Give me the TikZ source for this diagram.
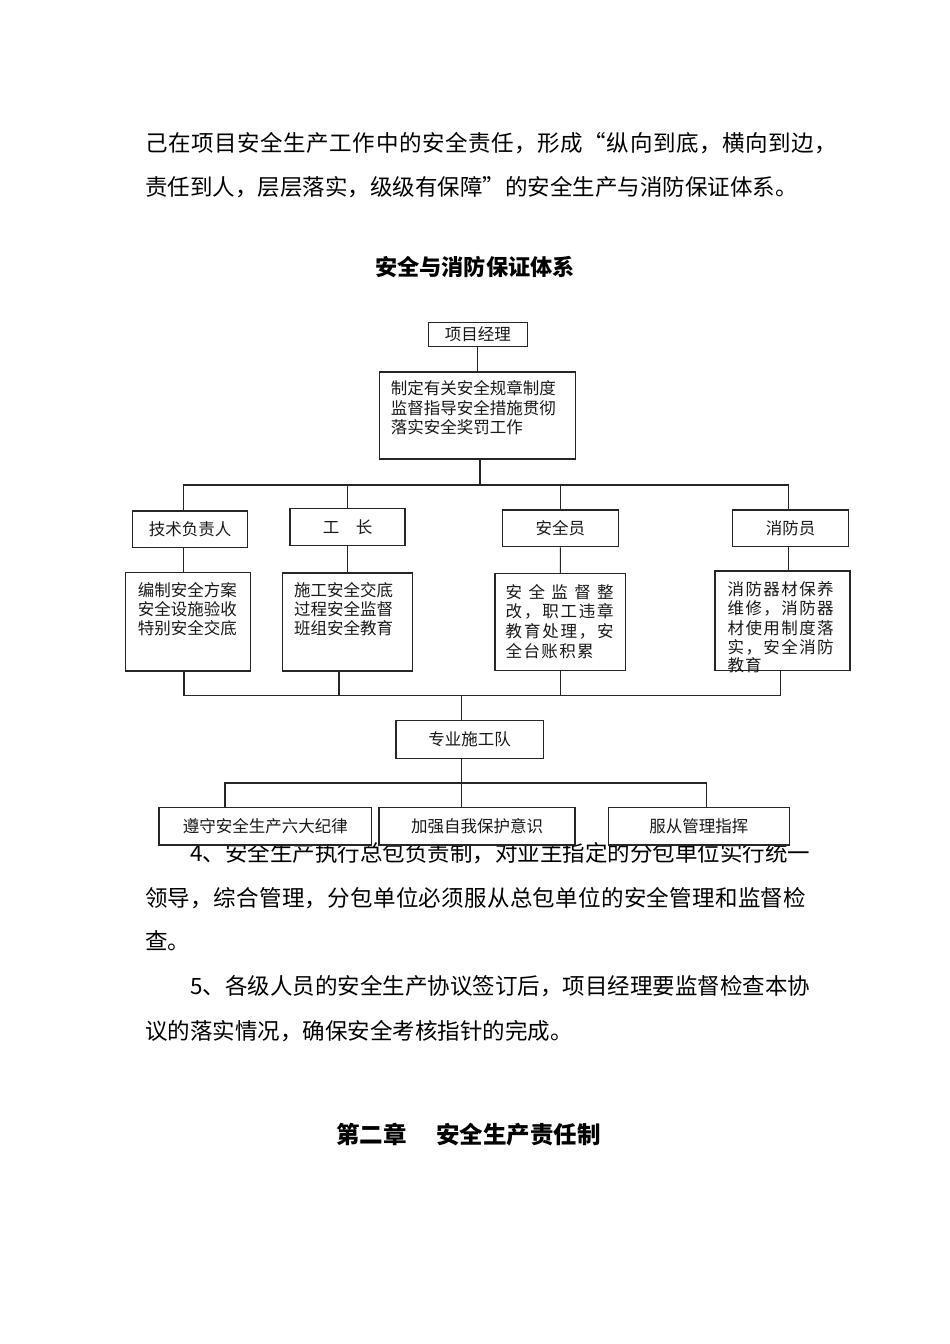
\documentclass[tikz,border=0pt]{standalone}
\usepackage{fontspec}
\setmainfont{Noto Sans CJK SC}
\ExplSyntaxOn
\bool_new:N \l_my_first_bool
\cs_new_protected:Npn \my_spread:n #1
 {
  \bool_set_true:N \l_my_first_bool
  \tl_map_inline:nn {#1}
   { \bool_if:NTF \l_my_first_bool { \bool_set_false:N \l_my_first_bool } { \hfill } ##1 }
 }
\NewDocumentCommand \spreadtext { m m } { \makebox[#1][s]{ \my_spread:n {#2} } }
\ExplSyntaxOff
\tikzset{
  box/.style={draw=black!85, line width=1.1pt, fill=white, inner sep=0pt, rectangle},
  wire/.style={draw=black!85, line width=1.1pt},
  dtext/.style={font=\fontsize{16.5}{19}\selectfont, text=black!90, inner sep=0pt},
  btext/.style={font=\fontsize{22.5}{27}\selectfont, inner sep=0pt, anchor=west},
  htext/.style={font=\fontsize{22.2}{27}\selectfont\bfseries, inner sep=0pt},
}
\begin{document}
\begin{tikzpicture}[x=1pt,y=-1pt]
\useasboundingbox[fill=white] (0,0) rectangle (950,1344);
% body text
\node[btext] (la) at (145,143) {\spreadtext{692pt}{己在项目安全生产工作中的安全责任，形成“纵向到底，横向到边，}};
\node[btext] (lb) at (145,187) {责任到人，层层落实，级级有保障”的安全生产与消防保证体系。};
\node[htext] (title) at (475,267) {安全与消防保证体系};
\node[btext] (p4a) at (190,853) {\spreadtext{618pt}{4、安全生产执行总包负责制，对业主指定的分包单位实行统一}};
\node[btext] (p4b) at (145,898) {\spreadtext{661pt}{领导，综合管理，分包单位必须服从总包单位的安全管理和监督检}};
\node[btext] (p4c) at (145,941) {查。};
\node[btext] (p5a) at (190,986) {\spreadtext{618pt}{5、各级人员的安全生产协议签订后，项目经理要监督检查本协}};
\node[btext] (p5b) at (145,1031) {议的落实情况，确保安全考核指针的完成。};
\node[htext, font=\fontsize{23.5}{28}\selectfont\bfseries, anchor=west] (chap) at (336,1135) {第二章\hspace{29.5pt}安全生产责任制};
% boxes
\node[box, dtext, minimum width=99pt, minimum height=24.4pt] (pm) at (477.8,334.5) {项目经理};
\node[box, minimum width=196pt, minimum height=87pt] (big) at (477.3,415.5) {};
\node[box, dtext, minimum width=114.6pt, minimum height=36.7pt] (tech) at (190,529.35) {技术负责人};
\node[box, dtext, minimum width=115pt, minimum height=37pt] (gz) at (347.5,527.2) {工\hspace{16.5pt}长};
\node[box, dtext, minimum width=116pt, minimum height=36.7pt] (aq) at (560.3,528.35) {安全员};
\node[box, dtext, minimum width=115.6pt, minimum height=36.7pt] (fire) at (790.5,528.35) {消防员};
\node[box, minimum width=124.6pt, minimum height=98.3pt] (d1) at (188,621.85) {};
\node[box, minimum width=130.4pt, minimum height=98pt] (d2) at (347.5,622) {};
\node[box, minimum width=130.7pt, minimum height=97.4pt] (d3) at (560.35,622) {};
\node[box, minimum width=135pt, minimum height=99.7pt] (d4) at (782.5,620.85) {};
\node[box, dtext, minimum width=147.3pt, minimum height=37.6pt] (team) at (469.65,739.5) {专业施工队};
\node[box, dtext, minimum width=212.7pt, minimum height=37.3pt] (r1) at (265.35,826.35) {遵守安全生产六大纪律};
\node[box, dtext, minimum width=196pt, minimum height=37.3pt] (r2) at (477,826.35) {加强自我保护意识};
\node[box, dtext, minimum width=181pt, minimum height=37.3pt] (r3) at (698.8,826.35) {服从管理指挥};
% box texts
\node[dtext, anchor=west] (bt1) at (390.7,388.3) {制定有关安全规章制度};
\node[dtext, anchor=west] (bt2) at (390.7,408.3) {监督指导安全措施贯彻};
\node[dtext, anchor=west] (bt3) at (390.7,427.3) {落实安全奖罚工作};
\node[dtext, anchor=west] (a1) at (137.7,590) {编制安全方案};
\node[dtext, anchor=west] (a2) at (137.7,609.3) {安全设施验收};
\node[dtext, anchor=west] (a3) at (137.7,628.3) {特别安全交底};
\node[dtext, anchor=west] (b1) at (294,590) {施工安全交底};
\node[dtext, anchor=west] (b2) at (294,609.3) {过程安全监督};
\node[dtext, anchor=west] (b3) at (294,628.3) {班组安全教育};
\node[dtext, anchor=west] (c1) at (505.5,591.7) {\spreadtext{108pt}{安全监督整}};
\node[dtext, anchor=west] (c2) at (505.5,611.7) {\spreadtext{108pt}{改，职工违章}};
\node[dtext, anchor=west] (c3) at (505.5,631.7) {\spreadtext{108pt}{教育处理，安}};
\node[dtext, anchor=west] (c4) at (505.5,651) {\spreadtext{88pt}{全台账积累}};
\node[dtext, anchor=west] (e1) at (727.5,589.3) {\spreadtext{106pt}{消防器材保养}};
\node[dtext, anchor=west] (e2) at (727.5,608.7) {\spreadtext{106pt}{维修，消防器}};
\node[dtext, anchor=west] (e3) at (727.5,628) {\spreadtext{106pt}{材使用制度落}};
\node[dtext, anchor=west] (e4) at (727.5,647.3) {\spreadtext{106pt}{实，安全消防}};
\node[dtext, anchor=west] (e5) at (727.5,665) {\spreadtext{34pt}{教育}};
% bus coordinates
\coordinate (tbL) at (183.3,485);
\coordinate (tbR) at (788.3,485);
\coordinate (tbM) at (480,485);
\coordinate (bbL) at (184,695.7);
\coordinate (bbR) at (780.7,695.7);
\coordinate (bb2) at (339,695.7);
\coordinate (bbM) at (461.7,695.7);
\coordinate (lbL) at (225,783);
\coordinate (lbR) at (706.7,783);
\coordinate (lbM) at (461.7,783);
% connectors
\draw[wire] (pm.south) -- (pm.south |- big.north);
\draw[wire] (big.south -| tbM) -- (tbM);
\draw[wire] (tech.north -| tbL) -- (tbL) -- (tbR) -- (fire.north -| tbR);
\draw[wire] (gz.north) -- (gz.north |- tbL);
\draw[wire] (aq.north) -- (aq.north |- tbL);
\draw[wire] (tech.south -| tbL) -- (d1.north -| tbL);
\draw[wire] (gz.south) -- (d2.north);
\draw[wire] (aq.south) -- (d3.north);
\draw[wire] (fire.south -| tbR) -- (d4.north -| tbR);
\draw[wire] (d1.south -| bbL) -- (bbL) -- (bbR) -- (d4.south -| bbR);
\draw[wire] (d2.south -| bb2) -- (bb2);
\draw[wire] (d3.south) -- (d3.south |- bbL);
\draw[wire] (bbM) -- (team.north -| bbM);
\draw[wire] (team.south -| lbM) -- (lbM);
\draw[wire] (r1.north -| lbL) -- (lbL) -- (lbR) -- (r3.north -| lbR);
\draw[wire] (lbM) -- (r2.north -| lbM);
\end{tikzpicture}
\end{document}
